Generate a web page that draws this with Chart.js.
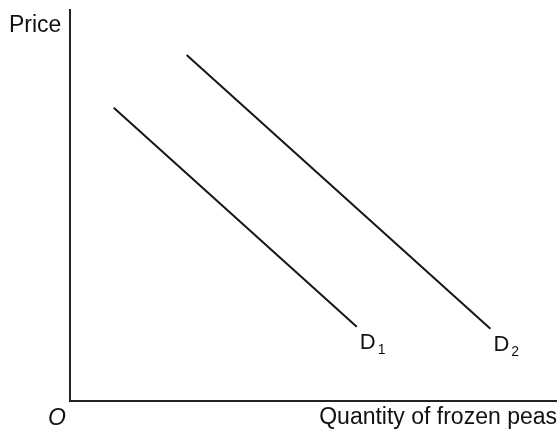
<!DOCTYPE html>
<html>
<head>
<meta charset="utf-8">
<script src="https://cdn.jsdelivr.net/npm/chart.js@4/dist/chart.umd.min.js"></script>
<style>
  html, body { margin: 0; padding: 0; background: #fff; }
  #wrap { width: 560px; height: 430px; }
</style>
</head>
<body>
<div id="wrap"><canvas id="chart-demand"></canvas></div>
<script>
'use strict';

// two demand curves (x = quantity, y = price, 0..10 units)
const curveLetters = ['D', 'D'];
const curveSubscripts = ['1', '2'];
const d1Quantity = [0.9, 5.9];
const d1Price = [7.5, 1.9];
const d2Quantity = [2.4, 8.65];
const d2Price = [8.85, 1.85];

const axisTitleX = 'Quantity of frozen peas';
const axisTitleY = 'Price';
const originLabel = 'O';

const FONT = "'Liberation Sans', Arial, Helvetica, sans-serif";

const toPoints = (xs, ys) => xs.map((x, i) => ({ x: x, y: ys[i] }));

// draws D1 / D2 next to the lower end of each curve, plus the axis texts
const labelsPlugin = {
    id: 'econLabels',
    afterDraw(chart) {
        const ctx = chart.ctx;
        const area = chart.chartArea;
        ctx.save();
        ctx.fillStyle = '#111';
        ctx.textBaseline = 'alphabetic';

        chart.data.datasets.forEach((ds, i) => {
            const last = ds.data[ds.data.length - 1];
            const px = chart.scales.x.getPixelForValue(last.x);
            const py = chart.scales.y.getPixelForValue(last.y);
            ctx.font = '22px ' + FONT;
            ctx.textAlign = 'left';
            const lx = px + 3, ly = py + 22;
            ctx.fillText(curveLetters[i], lx, ly);
            const w = ctx.measureText(curveLetters[i]).width;
            ctx.font = '14px ' + FONT;
            ctx.fillText(curveSubscripts[i], lx + w + 2, ly + 5);
        });

        ctx.font = '23px ' + FONT;
        ctx.textAlign = 'left';
        ctx.fillText(axisTitleY, 9, area.top + 22);

        ctx.textAlign = 'right';
        ctx.fillText(axisTitleX, area.right + 1, area.bottom + 23);

        ctx.font = 'italic 23px ' + FONT;
        ctx.textAlign = 'left';
        ctx.fillText(originLabel, 48, area.bottom + 24);
        ctx.restore();
    }
};

const noWidth = (scale) => {
    if (scale.isHorizontal()) scale.height = 0; else scale.width = 0;
};

new Chart(document.getElementById('chart-demand'), {
    type: 'scatter',
    data: {
        datasets: [
            {
                data: toPoints(d1Quantity, d1Price),
                showLine: true,
                borderColor: '#151515',
                borderWidth: 2,
                pointRadius: 0,
                fill: false
            },
            {
                data: toPoints(d2Quantity, d2Price),
                showLine: true,
                borderColor: '#151515',
                borderWidth: 2,
                pointRadius: 0,
                fill: false
            }
        ]
    },
    options: {
        responsive: true,
        maintainAspectRatio: false,
        animation: false,
        layout: { padding: { left: 70, top: 10, right: 4, bottom: 29 } },
        plugins: {
            legend: { display: false },
            tooltip: { enabled: false }
        },
        scales: {
            x: {
                min: 0, max: 10,
                ticks: { display: false },
                grid: { display: false, drawTicks: false },
                border: { display: true, color: '#222', width: 2 },
                afterFit: noWidth
            },
            y: {
                min: 0, max: 10,
                ticks: { display: false },
                grid: { display: false, drawTicks: false },
                border: { display: true, color: '#222', width: 2 },
                afterFit: noWidth
            }
        }
    },
    plugins: [labelsPlugin]
});
</script>
</body>
</html>
